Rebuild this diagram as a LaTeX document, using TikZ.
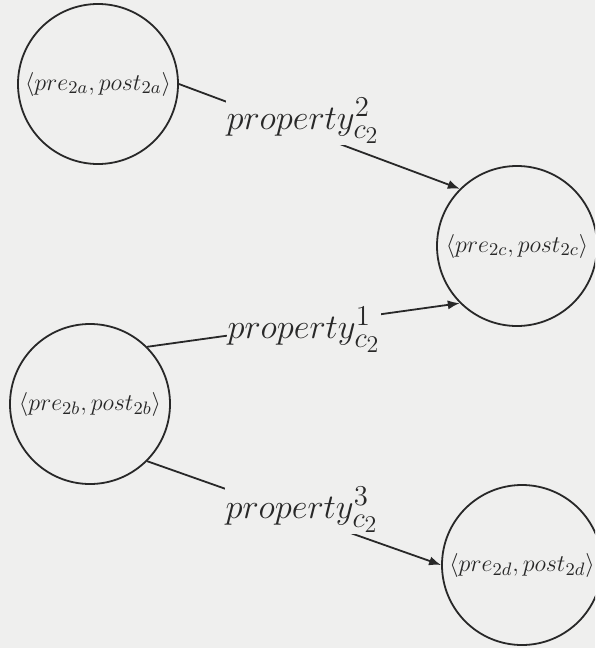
\documentclass[tikz,border=0pt]{standalone}
\usetikzlibrary{arrows.meta}
\DeclareMathSizes{12}{12}{9.5}{7.5}
\DeclareMathSizes{17.28}{17.28}{14}{12}
\definecolor{bg}{RGB}{239,239,238}
\definecolor{ink}{RGB}{40,40,40}
\tikzset{
  state/.style={circle, draw=ink, line width=0.9pt, minimum size=80pt, inner sep=0pt, font=\large, text=ink},
  edge/.style={draw=ink, line width=0.9pt},
  arr/.style={edge, -{Latex[length=6pt,width=4.6pt]}},
  plabel/.style={fill=bg, inner sep=0.5pt, font=\LARGE, text=ink}
}
\begin{document}
\begin{tikzpicture}[x=0.5pt, y=-0.5pt]
\useasboundingbox (0,0) rectangle (595,648);
\fill[bg] (0,0) rectangle (595,648);
\clip (0,0) rectangle (595,648);
\node[state] (a) at (98,84) {$\langle pre_{2a}, post_{2a}\rangle$};
\node[state] (b) at (90,404) {$\langle pre_{2b}, post_{2b}\rangle$};
\node[state] (c) at (517,246) {$\langle pre_{2c}, post_{2c}\rangle$};
\node[state] (d) at (522,565) {$\langle pre_{2d}, post_{2d}\rangle$};
\draw[arr] (a.east) -- (c.north west);
\draw[arr] (b.north east) -- (c.south west);
\draw[arr] (b.south east) -- (d.west);
\node[plabel] (l2) at (303,121) {$property^{2}_{c_2}$};
\node[plabel] (l1) at (304,330) {$property^{1}_{c_2}$};
\node[plabel] (l3) at (302,510) {$property^{3}_{c_2}$};
\end{tikzpicture}
\end{document}
